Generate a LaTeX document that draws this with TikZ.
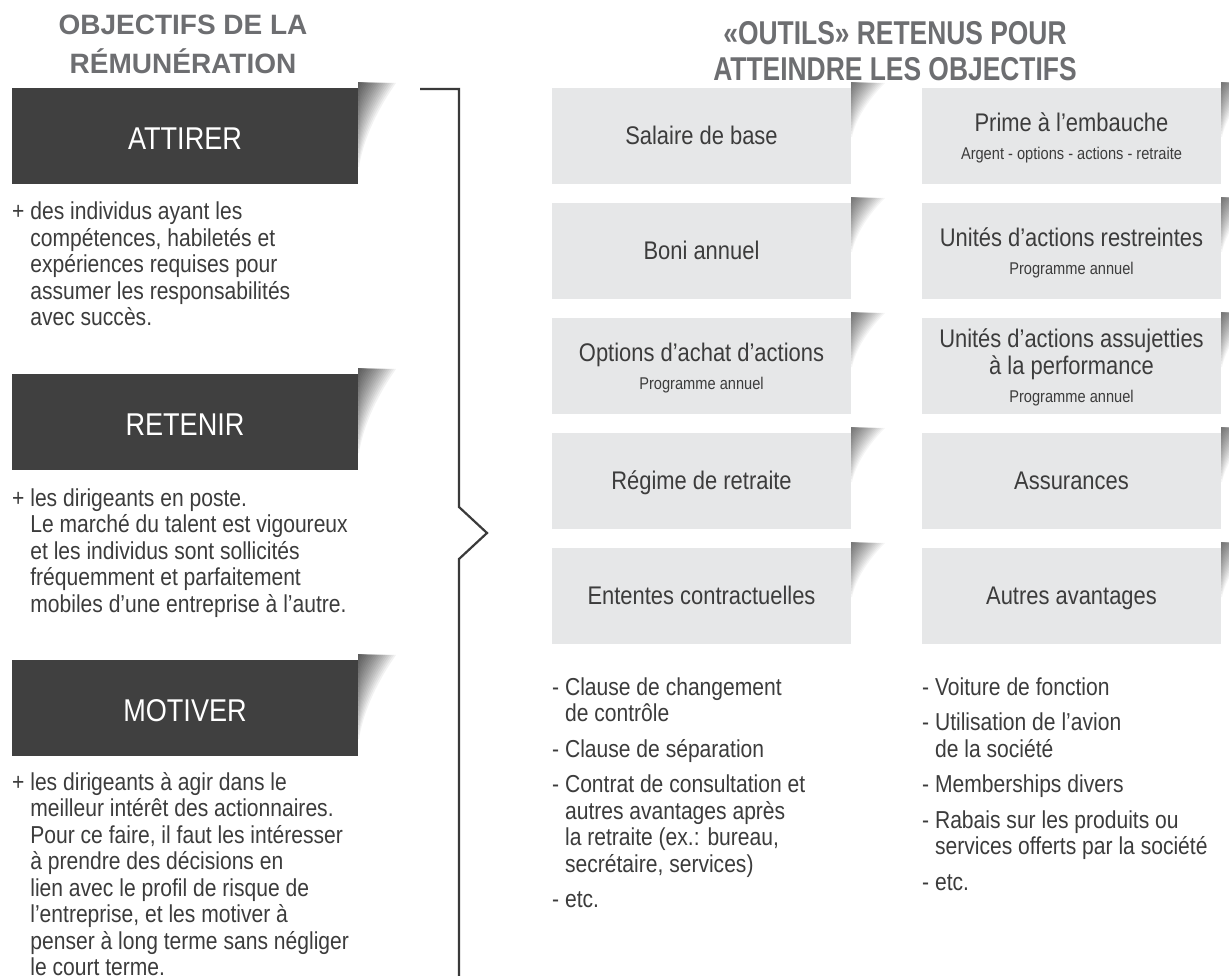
\documentclass[tikz,border=0pt]{standalone}
\usepackage{fontspec}
\setmainfont{Liberation Sans}[FakeStretch=0.86]
\newfontfamily\headfont{Liberation Sans}
\newfontfamily\condhead{Liberation Sans}[FakeStretch=0.8]
\definecolor{darkc}{HTML}{404040}
\definecolor{greyc}{HTML}{E6E7E8}
\definecolor{txtc}{HTML}{3C3C3C}
\definecolor{headc}{HTML}{6D6E71}
\definecolor{brkc}{HTML}{3A3A3A}
\newcommand{\subf}{\fontsize{17}{27}\selectfont}
\newcommand{\tp}{\vphantom{É}}
\newcommand{\bt}{\vphantom{g}}
% #1 right x, #2 top y, #3 opacity per layer, #4 height, #5 width
\newcommand{\cornershadow}[5]{%
  \foreach \k in {1,...,18}{
    \pgfmathsetmacro{\s}{\k/18}
    \pgfmathsetmacro{\xw}{#1+#5*\s}
    \pgfmathsetmacro{\cxa}{#1+0.55*#5*\s}
    \pgfmathsetmacro{\cya}{#2-6+0.3*(#4)*\s}
    \pgfmathsetmacro{\cxb}{#1+0.15*#5*\s}
    \pgfmathsetmacro{\cyb}{#2-6+0.65*(#4)*\s}
    \pgfmathsetmacro{\yh}{#2-6+(#4)*\s}
    \fill[black, fill opacity=#3] (#1,{#2-6}) -- (\xw,{#2-5}) .. controls (\cxa,\cya) and (\cxb,\cyb) .. ({#1+1},\yh) -- (#1,\yh) -- cycle;
  }}
\begin{document}
\begin{tikzpicture}[x=1pt,y=-1pt,
  darkbox/.style={fill=darkc, minimum width=346pt, minimum height=96pt, inner sep=0pt, text=white, font=\fontsize{31.5}{33}\selectfont},
  greybox/.style={fill=greyc, minimum width=299pt, minimum height=96pt, inner sep=0pt, text=txtc, align=center, font=\fontsize{25.5}{27}\selectfont},
  bodytxt/.style={anchor=base west, inner sep=0pt, text=txtc, font=\fontsize{24.5}{26.5}\selectfont},
  headtxt/.style={anchor=base, inner sep=0pt, text=headc, font=\headfont\bfseries\fontsize{28}{30}\selectfont},
  headtxtR/.style={anchor=base, inner sep=0pt, text=headc, font=\condhead\bfseries\fontsize{33}{35}\selectfont},
  bracket/.style={draw=brkc, line width=2.2pt, miter limit=10}]
\useasboundingbox (0,0) rectangle (1229,976);
\fill[white] (0,0) rectangle (1229,976);

% headings
\node[headtxt] (h1a) at (183,35) {OBJECTIFS DE LA};
\node[headtxt] (h1b) at (183,74) {RÉMUNÉRATION};
\node[headtxtR] (h2a) at (895,45) {«OUTILS» RETENUS POUR};
\node[headtxtR] (h2b) at (895,81) {ATTEINDRE LES OBJECTIFS};

% shadows for dark boxes
\cornershadow{358}{88}{0.05}{85}{38}
\cornershadow{358}{374}{0.05}{85}{38}
\cornershadow{358}{660}{0.05}{85}{38}

% shadows for grey boxes
\foreach \yy in {88,203,318,433,548}{
  \cornershadow{851}{\yy}{0.04}{55}{34}
  \cornershadow{1221}{\yy}{0.04}{55}{34}
}

% dark boxes
\node[darkbox] (attirer) at (185,136) {\tp ATTIRER};
\node[darkbox] (retenir) at (185,422) {\tp RETENIR};
\node[darkbox] (motiver) at (185,708) {\tp MOTIVER};

% body texts
\node[bodytxt] (attirerTxt) at (12,220) {\parbox[t]{390pt}{%
+ des individus ayant les\\
\phantom{+ }compétences, habiletés et\\
\phantom{+ }expériences requises pour\\
\phantom{+ }assumer les responsabilités\\
\phantom{+ }avec succès.}};
\node[bodytxt] (retenirTxt) at (12,506) {\parbox[t]{390pt}{%
+ les dirigeants en poste.\\
\phantom{+ }Le marché du talent est vigoureux\\
\phantom{+ }et les individus sont sollicités\\
\phantom{+ }fréquemment et parfaitement\\
\phantom{+ }mobiles d’une entreprise à l’autre.}};
\node[bodytxt] (motiverTxt) at (12,790) {\parbox[t]{390pt}{%
+ les dirigeants à agir dans le\\
\phantom{+ }meilleur intérêt des actionnaires.\\
\phantom{+ }Pour ce faire, il faut les intéresser\\
\phantom{+ }à prendre des décisions en\\
\phantom{+ }lien avec le profil de risque de\\
\phantom{+ }l’entreprise, et les motiver à\\
\phantom{+ }penser à long terme sans négliger\\
\phantom{+ }le court terme.}};

% bracket
\coordinate (bTop) at (420,89);
\coordinate (bCorner) at (459,89);
\coordinate (bA) at (459,507);
\coordinate (bTip) at (487,533);
\coordinate (bB) at (459,559);
\coordinate (bEnd) at (459,976);
\draw[bracket] (bTop) -- (bCorner) -- (bA) -- (bTip) -- (bB) -- (bEnd);

% grey boxes column 1
\node[greybox] (salaire) at (701.5,136) {\tp\bt Salaire de base};
\node[greybox] (boni) at (701.5,251) {\tp\bt Boni annuel};
\node[greybox] (options) at (701.5,366) {\tp Options d’achat d’actions\\[1pt]{\subf\bt Programme annuel}};
\node[greybox] (regime) at (701.5,481) {\tp\bt Régime de retraite};
\node[greybox] (ententes) at (701.5,596) {\tp\bt Ententes contractuelles};

% grey boxes column 2
\node[greybox] (prime) at (1071.5,136) {\tp Prime à l’embauche\\[1pt]{\subf\bt Argent - options - actions - retraite}};
\node[greybox] (unites) at (1071.5,251) {\tp Unités d’actions restreintes\\[1pt]{\subf\bt Programme annuel}};
\node[greybox] (assuj) at (1071.5,366) {\tp Unités d’actions assujetties\\à la performance\\[1pt]{\subf\bt Programme annuel}};
\node[greybox] (assur) at (1071.5,481) {\tp\bt Assurances};
\node[greybox] (autres) at (1071.5,596) {\tp\bt Autres avantages};

% lists
\node[bodytxt] (list1) at (552,695) {\parbox[t]{300pt}{%
- Clause de changement\\
\phantom{- }de contrôle\\[9pt]
- Clause de séparation\\[9pt]
- Contrat de consultation et\\
\phantom{- }autres avantages après\\
\phantom{- }la retraite (ex.: bureau,\\
\phantom{- }secrétaire, services)\\[9pt]
- etc.}};
\node[bodytxt] (list2) at (922,695) {\parbox[t]{300pt}{%
- Voiture de fonction\\[9pt]
- Utilisation de l’avion\\
\phantom{- }de la société\\[9pt]
- Memberships divers\\[9pt]
- Rabais sur les produits ou\\
\phantom{- }services offerts par la société\\[9pt]
- etc.}};
\end{tikzpicture}
\end{document}
